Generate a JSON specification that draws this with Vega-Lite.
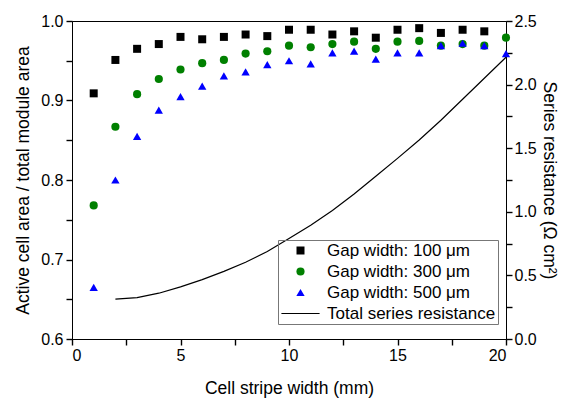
{
  "$schema": "https://vega.github.io/schema/vega-lite/v6.json",
  "width": 434,
  "height": 318,
  "autosize": "none",
  "padding": {"left": 72, "top": 21, "right": 57, "bottom": 60},
  "background": "white",
  "config": {
    "font": "Liberation Sans",
    "view": {"stroke": "black", "strokeWidth": 1},
    "axis": {
      "grid": false,
      "domain": true,
      "domainColor": "black",
      "domainWidth": 1,
      "ticks": true,
      "tickColor": "#000000",
      "tickWidth": 1.4,
      "tickSize": 6,
      "labelColor": "black",
      "titleColor": "black",
      "labelFontSize": 16,
      "titleFontSize": 17.5,
      "titleFontWeight": "normal",
      "labelFont": "Liberation Sans",
      "titleFont": "Liberation Sans"
    }
  },
  "datasets": {
    "area": [
      {"width": 1, "ratio": 0.909, "series": "Gap width: 100 μm"},
      {"width": 2, "ratio": 0.951, "series": "Gap width: 100 μm"},
      {"width": 3, "ratio": 0.965, "series": "Gap width: 100 μm"},
      {"width": 4, "ratio": 0.971, "series": "Gap width: 100 μm"},
      {"width": 5, "ratio": 0.980, "series": "Gap width: 100 μm"},
      {"width": 6, "ratio": 0.977, "series": "Gap width: 100 μm"},
      {"width": 7, "ratio": 0.980, "series": "Gap width: 100 μm"},
      {"width": 8, "ratio": 0.983, "series": "Gap width: 100 μm"},
      {"width": 9, "ratio": 0.981, "series": "Gap width: 100 μm"},
      {"width": 10, "ratio": 0.989, "series": "Gap width: 100 μm"},
      {"width": 11, "ratio": 0.989, "series": "Gap width: 100 μm"},
      {"width": 12, "ratio": 0.983, "series": "Gap width: 100 μm"},
      {"width": 13, "ratio": 0.987, "series": "Gap width: 100 μm"},
      {"width": 14, "ratio": 0.979, "series": "Gap width: 100 μm"},
      {"width": 15, "ratio": 0.989, "series": "Gap width: 100 μm"},
      {"width": 16, "ratio": 0.991, "series": "Gap width: 100 μm"},
      {"width": 17, "ratio": 0.985, "series": "Gap width: 100 μm"},
      {"width": 18, "ratio": 0.989, "series": "Gap width: 100 μm"},
      {"width": 19, "ratio": 0.987, "series": "Gap width: 100 μm"},
      {"width": 1, "ratio": 0.768, "series": "Gap width: 300 μm"},
      {"width": 2, "ratio": 0.867, "series": "Gap width: 300 μm"},
      {"width": 3, "ratio": 0.908, "series": "Gap width: 300 μm"},
      {"width": 4, "ratio": 0.927, "series": "Gap width: 300 μm"},
      {"width": 5, "ratio": 0.939, "series": "Gap width: 300 μm"},
      {"width": 6, "ratio": 0.947, "series": "Gap width: 300 μm"},
      {"width": 7, "ratio": 0.951, "series": "Gap width: 300 μm"},
      {"width": 8, "ratio": 0.959, "series": "Gap width: 300 μm"},
      {"width": 9, "ratio": 0.962, "series": "Gap width: 300 μm"},
      {"width": 10, "ratio": 0.969, "series": "Gap width: 300 μm"},
      {"width": 11, "ratio": 0.967, "series": "Gap width: 300 μm"},
      {"width": 12, "ratio": 0.971, "series": "Gap width: 300 μm"},
      {"width": 13, "ratio": 0.974, "series": "Gap width: 300 μm"},
      {"width": 14, "ratio": 0.965, "series": "Gap width: 300 μm"},
      {"width": 15, "ratio": 0.974, "series": "Gap width: 300 μm"},
      {"width": 16, "ratio": 0.975, "series": "Gap width: 300 μm"},
      {"width": 17, "ratio": 0.969, "series": "Gap width: 300 μm"},
      {"width": 18, "ratio": 0.971, "series": "Gap width: 300 μm"},
      {"width": 19, "ratio": 0.969, "series": "Gap width: 300 μm"},
      {"width": 20, "ratio": 0.979, "series": "Gap width: 300 μm"},
      {"width": 1, "ratio": 0.665, "series": "Gap width: 500 μm"},
      {"width": 2, "ratio": 0.800, "series": "Gap width: 500 μm"},
      {"width": 3, "ratio": 0.855, "series": "Gap width: 500 μm"},
      {"width": 4, "ratio": 0.888, "series": "Gap width: 500 μm"},
      {"width": 5, "ratio": 0.905, "series": "Gap width: 500 μm"},
      {"width": 6, "ratio": 0.918, "series": "Gap width: 500 μm"},
      {"width": 7, "ratio": 0.931, "series": "Gap width: 500 μm"},
      {"width": 8, "ratio": 0.936, "series": "Gap width: 500 μm"},
      {"width": 9, "ratio": 0.945, "series": "Gap width: 500 μm"},
      {"width": 10, "ratio": 0.950, "series": "Gap width: 500 μm"},
      {"width": 11, "ratio": 0.946, "series": "Gap width: 500 μm"},
      {"width": 12, "ratio": 0.960, "series": "Gap width: 500 μm"},
      {"width": 13, "ratio": 0.962, "series": "Gap width: 500 μm"},
      {"width": 14, "ratio": 0.952, "series": "Gap width: 500 μm"},
      {"width": 15, "ratio": 0.960, "series": "Gap width: 500 μm"},
      {"width": 16, "ratio": 0.960, "series": "Gap width: 500 μm"},
      {"width": 17, "ratio": 0.969, "series": "Gap width: 500 μm"},
      {"width": 18, "ratio": 0.972, "series": "Gap width: 500 μm"},
      {"width": 19, "ratio": 0.969, "series": "Gap width: 500 μm"},
      {"width": 20, "ratio": 0.959, "series": "Gap width: 500 μm"}
    ],
    "res": [
      {"width": 2, "resistance": 0.313, "series": "Total series resistance"},
      {"width": 3, "resistance": 0.326, "series": "Total series resistance"},
      {"width": 4, "resistance": 0.36, "series": "Total series resistance"},
      {"width": 5, "resistance": 0.41, "series": "Total series resistance"},
      {"width": 6, "resistance": 0.467, "series": "Total series resistance"},
      {"width": 7, "resistance": 0.532, "series": "Total series resistance"},
      {"width": 8, "resistance": 0.603, "series": "Total series resistance"},
      {"width": 9, "resistance": 0.688, "series": "Total series resistance"},
      {"width": 10, "resistance": 0.79, "series": "Total series resistance"},
      {"width": 11, "resistance": 0.895, "series": "Total series resistance"},
      {"width": 12, "resistance": 1.01, "series": "Total series resistance"},
      {"width": 13, "resistance": 1.14, "series": "Total series resistance"},
      {"width": 14, "resistance": 1.28, "series": "Total series resistance"},
      {"width": 15, "resistance": 1.42, "series": "Total series resistance"},
      {"width": 16, "resistance": 1.565, "series": "Total series resistance"},
      {"width": 17, "resistance": 1.72, "series": "Total series resistance"},
      {"width": 18, "resistance": 1.885, "series": "Total series resistance"},
      {"width": 19, "resistance": 2.05, "series": "Total series resistance"},
      {"width": 20, "resistance": 2.215, "series": "Total series resistance"}
    ]
  },
  "layer": [
    {
      "data": {"name": "area"},
      "mark": {"type": "point", "filled": true, "opacity": 1},
      "encoding": {
        "x": {
          "field": "width", "type": "quantitative",
          "scale": {"domain": [0, 20], "nice": false},
          "axis": {
            "title": "Cell stripe width (mm)",
            "values": [0, 2.5, 5, 7.5, 10, 12.5, 15, 17.5, 20],
            "labelExpr": "datum.value % 5 == 0 ? format(datum.value, 'd') : ''",
            "labelPadding": 2,
            "titlePadding": 16
          }
        },
        "y": {
          "field": "ratio", "type": "quantitative",
          "scale": {"domain": [0.6, 1.0], "nice": false, "zero": false},
          "axis": {
            "title": "Active cell area / total module area",
            "values": [0.6, 0.65, 0.7, 0.75, 0.8, 0.85, 0.9, 0.95, 1.0],
            "labelExpr": "round(datum.value * 20) % 2 == 0 ? format(datum.value, '.1f') : ''",
            "labelPadding": 3,
            "titlePadding": 8
          }
        },
        "size": {
          "field": "series", "type": "nominal",
          "scale": {
            "domain": ["Gap width: 100 μm", "Gap width: 300 μm", "Gap width: 500 μm", "Total series resistance"],
            "range": [64, 72, 130, 64]
          },
          "legend": null
        },
        "shape": {
          "field": "series", "type": "nominal",
          "scale": {
            "domain": ["Gap width: 100 μm", "Gap width: 300 μm", "Gap width: 500 μm", "Total series resistance"],
            "range": ["square", "circle", "triangle-up", "M-4.5,0H4.5"]
          },
          "legend": {
            "orient": "none", "legendX": 206, "legendY": 219,
            "title": null, "strokeColor": "#777777", "padding": 2,
            "labelFontSize": 17, "labelColor": "black", "labelFont": "Liberation Sans", "labelLimit": 400,
            "rowPadding": 3, "labelOffset": 18, "symbolOffset": 12,
            "symbolSize": 64,
            "symbolStrokeWidth": 1.2,
            "symbolStrokeColor": {"expr": "datum.value == 'Total series resistance' ? 'black' : 'transparent'"}
          }
        },
        "color": {
          "field": "series", "type": "nominal",
          "scale": {
            "domain": ["Gap width: 100 μm", "Gap width: 300 μm", "Gap width: 500 μm", "Total series resistance"],
            "range": ["#000000", "#008000", "#0000ff", "#000000"]
          },
          "legend": {
            "orient": "none", "legendX": 206, "legendY": 219,
            "title": null, "strokeColor": "#777777", "padding": 2,
            "labelFontSize": 17, "labelColor": "black", "labelFont": "Liberation Sans", "labelLimit": 400,
            "rowPadding": 3, "labelOffset": 18, "symbolOffset": 12,
            "symbolSize": 64,
            "symbolStrokeWidth": 1.2,
            "symbolStrokeColor": {"expr": "datum.value == 'Total series resistance' ? 'black' : 'transparent'"}
          }
        }
      }
    },
    {
      "data": {"name": "res"},
      "mark": {"type": "line", "color": "black", "strokeWidth": 1.2},
      "encoding": {
        "x": {"field": "width", "type": "quantitative"},
        "y": {
          "field": "resistance", "type": "quantitative",
          "scale": {"domain": [0, 2.5], "nice": false},
          "axis": {
            "orient": "right",
            "title": "Series resistance (Ω cm²)",
            "values": [0, 0.25, 0.5, 0.75, 1, 1.25, 1.5, 1.75, 2, 2.25, 2.5],
            "labelExpr": "round(datum.value * 4) % 2 == 0 ? format(datum.value, '.1f') : ''",
            "labelPadding": 2,
            "titlePadding": 3
          }
        }
      }
    }
  ],
  "resolve": {"scale": {"y": "independent"}}
}
